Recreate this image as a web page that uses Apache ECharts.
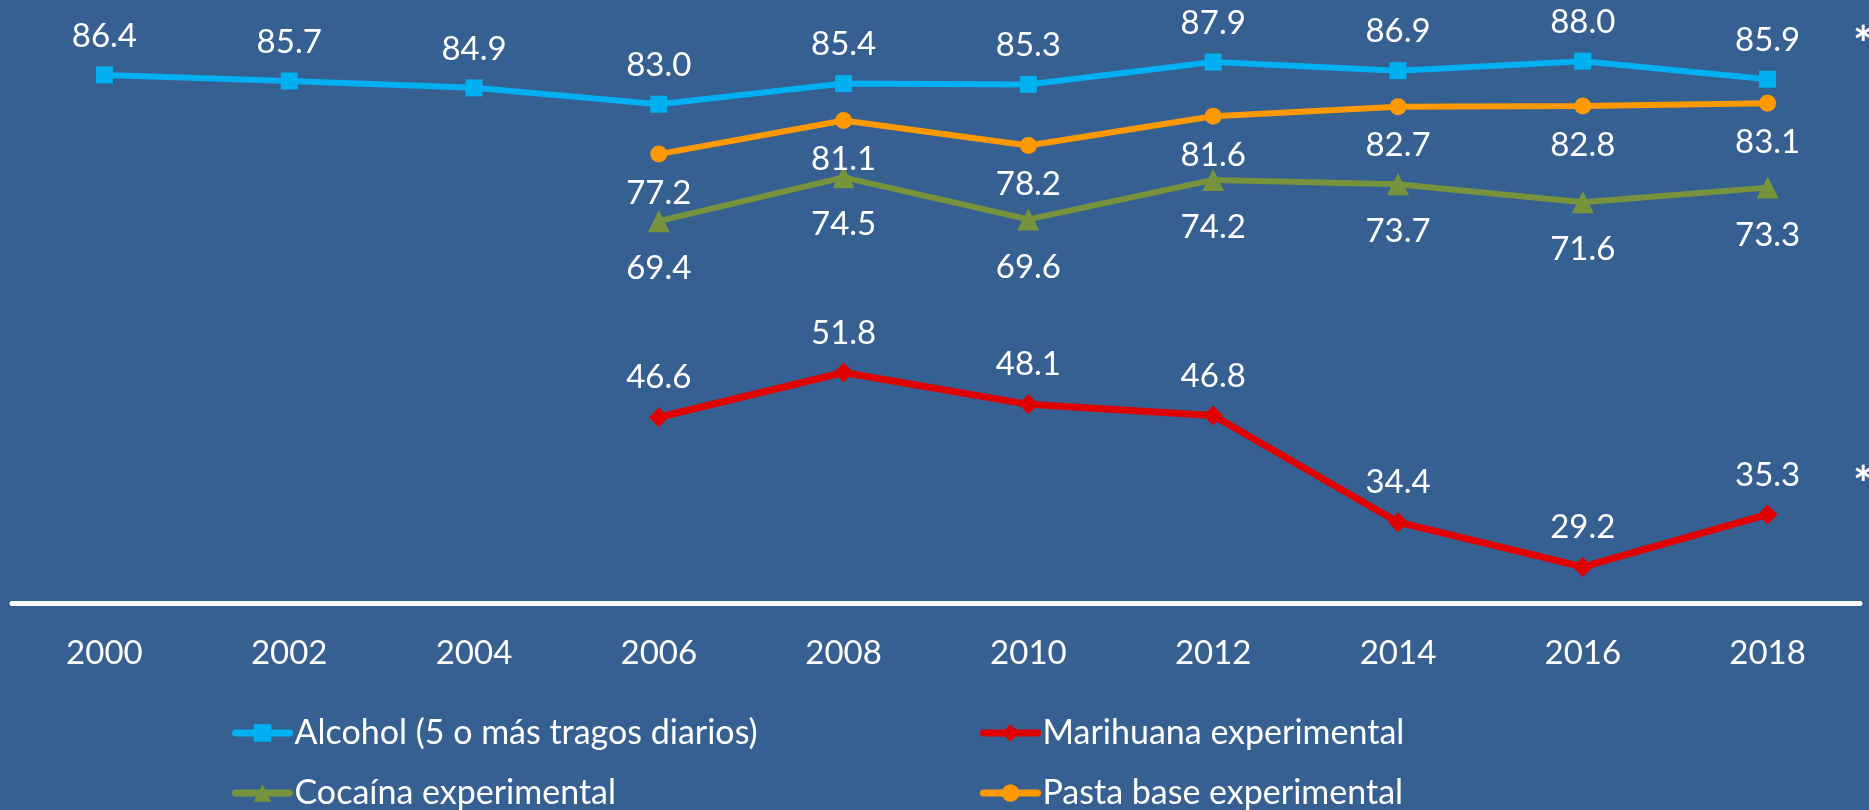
<!DOCTYPE html>
<html>
<head>
<meta charset="utf-8">
<script src="https://cdn.jsdelivr.net/npm/echarts@6/dist/echarts.min.js"></script>
<style>
  html, body { margin: 0; padding: 0; background: #376092; }
  #chart { width: 1869px; height: 810px; }
</style>
</head>
<body>
<div id="chart"></div>
<script>
const years = ['2000', '2002', '2004', '2006', '2008', '2010', '2012', '2014', '2016', '2018']
const alcohol = [86.4, 85.7, 84.9, 83.0, 85.4, 85.3, 87.9, 86.9, 88.0, 85.9]
const marihuana = [null, null, null, 46.6, 51.8, 48.1, 46.8, 34.4, 29.2, 35.3]
const cocaina = [null, null, null, 69.4, 74.5, 69.6, 74.2, 73.7, 71.6, 73.3]
const pastaBase = [null, null, null, 77.2, 81.1, 78.2, 81.6, 82.7, 82.8, 83.1]

const FONT = 'Lato, "Liberation Sans", sans-serif'
const labelStyle = (pos, dist) => ({
  show: true,
  position: pos,
  distance: dist,
  color: '#fff',
  fontSize: 33,
  fontFamily: FONT,
  formatter: (p) => p.value == null ? '' : p.value.toFixed(1),
})

const makeSeries = (name, data, color, symbol, size, width, pos, dist) => ({
  name,
  type: 'line',
  data,
  symbol,
  symbolSize: size,
  showAllSymbol: true,
  connectNulls: false,
  lineStyle: { color, width },
  itemStyle: { color },
  label: labelStyle(pos, dist),
  emphasis: { disabled: true },
})

const myChart = echarts.init(document.getElementById('chart'), null, { renderer: 'canvas' })

const legendBase = {
  top: 716,
  orient: 'vertical',
  padding: 0,
  itemGap: 26,
  itemWidth: 54,
  itemHeight: 22,
  lineStyle: { width: 7, cap: 'round' },
  textStyle: { color: '#fff', fontSize: 34, fontFamily: FONT },
}

const option = {
  backgroundColor: '#376092',
  animation: false,
  grid: { left: 12, right: 9, top: 44, bottom: 207 },
  xAxis: {
    type: 'category',
    data: years,
    boundaryGap: true,
    axisLine: { show: true, lineStyle: { color: '#fff', width: 5 } },
    axisTick: { show: false },
    axisLabel: { color: '#fff', fontSize: 33, fontFamily: FONT, margin: 34 },
  },
  yAxis: {
    type: 'value',
    min: 25,
    max: 90,
    show: false,
    splitLine: { show: false },
  },
  legend: [
    {
      ...legendBase,
      left: 232,
      data: ['Alcohol (5 o más tragos diarios)', 'Cocaína experimental'],
    },
    {
      ...legendBase,
      left: 980,
      data: ['Marihuana experimental', 'Pasta base experimental'],
    },
  ],
  graphic: [
    { type: 'text', left: 1853, top: 22, style: { text: '*', fill: '#fff', font: 'bold 48px ' + FONT } },
    { type: 'text', left: 1853, top: 462, style: { text: '*', fill: '#fff', font: 'bold 48px ' + FONT } },
  ],
  series: [
    makeSeries('Alcohol (5 o más tragos diarios)', alcohol, '#00B0F0', 'rect', 17, 6, 'top', 14),
    makeSeries('Marihuana experimental', marihuana, '#E00000', 'diamond', 20, 7, 'top', 13),
    makeSeries('Cocaína experimental', cocaina, '#77933C', 'triangle', 22, 6, 'bottom', 20),
    makeSeries('Pasta base experimental', pastaBase, '#FF9900', 'circle', 17, 6, 'bottom', 14),
  ],
}

option && myChart.setOption(option)
</script>
</body>
</html>
